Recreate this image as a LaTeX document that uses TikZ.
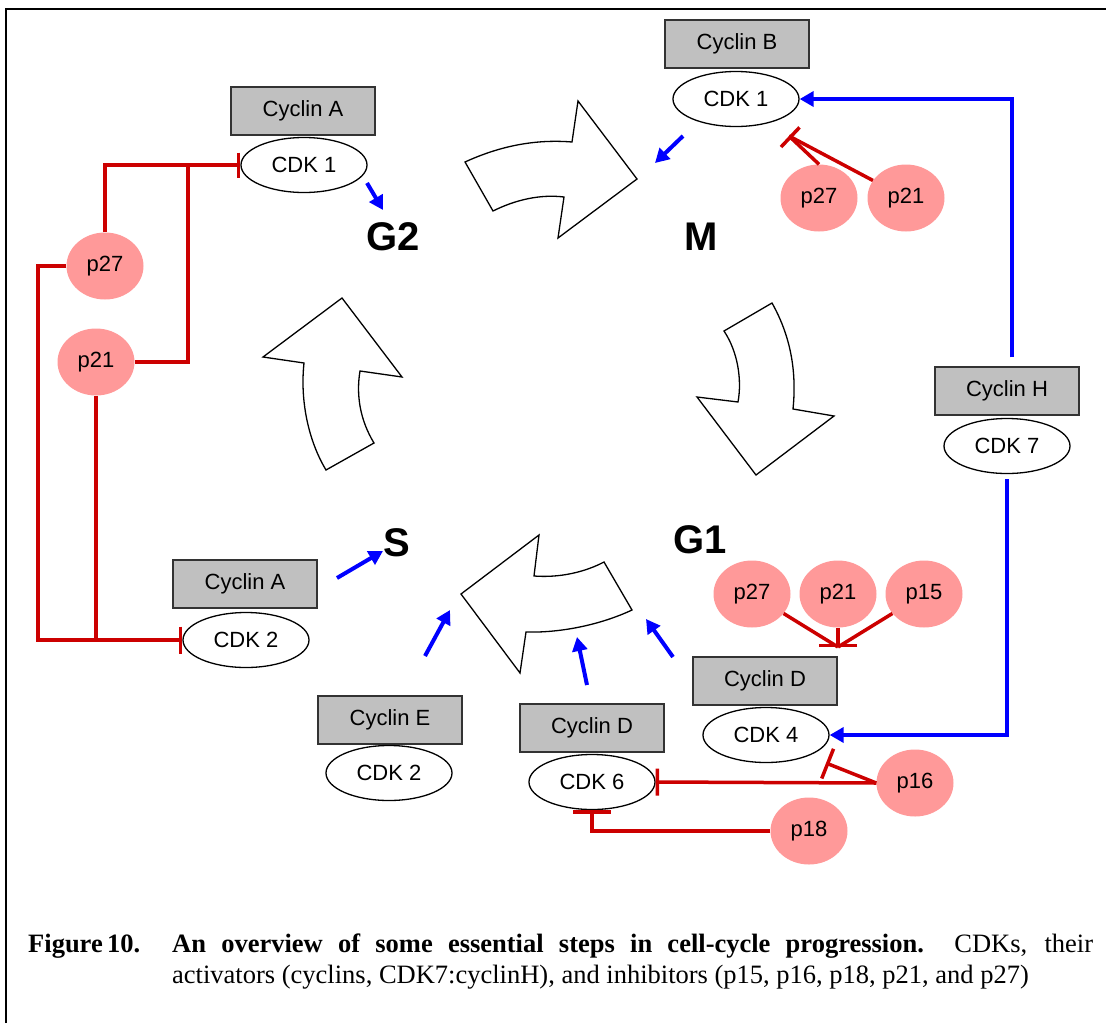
\documentclass[tikz,border=0pt]{standalone}
\usepackage{fontspec}
\setmainfont{Liberation Sans}
\newfontfamily\capfont{Liberation Serif}
\usetikzlibrary{shapes.geometric,arrows.meta}
\definecolor{inhred}{HTML}{CC0000}
\definecolor{pinkfill}{HTML}{FF9999}
\definecolor{boxgray}{HTML}{C0C0C0}
\definecolor{actblue}{HTML}{0000FF}
\begin{document}
\begin{tikzpicture}[x=1pt,y=-1pt,
  cyc/.style={draw=black!80, fill=boxgray, line width=1.2pt, minimum width=144pt, minimum height=48pt, inner sep=0pt, font=\fontsize{22}{26}\selectfont},
  cdk/.style={ellipse, draw=black, line width=1.3pt, fill=white, minimum width=126pt, minimum height=55pt, inner sep=0pt, font=\fontsize{22}{26}\selectfont},
  inhib/.style={ellipse, fill=pinkfill, minimum width=77pt, minimum height=67pt, inner sep=0pt, font=\fontsize{22}{26}\selectfont},
  phase/.style={inner sep=0pt, font=\fontsize{40}{44}\selectfont\bfseries},
  blockarrow/.style={draw=black, line width=1.3pt, fill=white, line join=miter},
  act/.style={draw=actblue, line width=4pt, -{Triangle[length=14pt,width=15pt]}},
  inh/.style={draw=inhred, line width=3.5pt},
  tbar/.style={-{Bar[width=#1]}},
  captext/.style={inner sep=0pt, font=\capfont\fontsize{26.5}{31}\selectfont}
]
\useasboundingbox (0,0) rectangle (1106,1023);
% frame
\draw[line width=2pt] (6,1023) -- (6,9) -- (1106,9);

% block arrows of the cycle
\draw[blockarrow] (465,162) .. controls (500,146) and (535,139) .. (572,142) -- (578,101) -- (637,179) -- (558,238) -- (564,197) .. controls (540,194) and (515,200) .. (493,211) -- cycle;
\draw[blockarrow] (724,331) -- (772,303) .. controls (790,335) and (797,370) .. (793,409) -- (834,416) -- (756,475) -- (697,397) -- (738,402) .. controls (742,380) and (738,352) .. (724,331) -- cycle;
\draw[blockarrow] (604,562) -- (632,610) .. controls (600,625) and (560,633) .. (526,632) -- (520,673) -- (461,594) -- (539,535) -- (534,576) .. controls (560,578) and (585,572) .. (604,562) -- cycle;
\draw[blockarrow] (326,470) -- (374,443) .. controls (360,420) and (356,395) .. (360,371) -- (402,377) -- (342,298) -- (263,357) -- (304,363) .. controls (300,400) and (308,440) .. (326,470) -- cycle;

% phase labels
\node[phase] (G2) at (393,237) {G2};
\node[phase] (M) at (701,237) {M};
\node[phase] (G1) at (700,540) {G1};
\node[phase] (S) at (397,543) {S};

% cyclins and CDKs
\node[cyc] (cycB) at (737,44) {Cyclin B};
\node[cdk] (cdk1b) at (736,99) {CDK 1};
\node[cyc] (cycA1) at (303,111) {Cyclin A};
\node[cdk] (cdk1a) at (304,165) {CDK 1};
\node[cyc] (cycH) at (1007,391) {Cyclin H};
\node[cdk] (cdk7) at (1007,446) {CDK 7};
\node[cyc] (cycA2) at (245,584) {Cyclin A};
\node[cdk] (cdk2a) at (246,640) {CDK 2};
\node[cyc] (cycE) at (390,720) {Cyclin E};
\node[cdk] (cdk2b) at (389,773) {CDK 2};
\node[cyc] (cycD1) at (592,728) {Cyclin D};
\node[cdk] (cdk6) at (592,782) {CDK 6};
\node[cyc] (cycD2) at (765,681) {Cyclin D};
\node[cdk] (cdk4) at (766,735) {CDK 4};

% inhibitors
\node[inhib] (p27a) at (105,266) {p27};
\node[inhib] (p21a) at (96,362) {p21};
\node[inhib] (p27b) at (819,198) {p27};
\node[inhib] (p21b) at (906,198) {p21};
\node[inhib] (p27c) at (752,594) {p27};
\node[inhib] (p21c) at (838,594) {p21};
\node[inhib] (p15) at (924,594) {p15};
\node[inhib] (p16) at (915,783) {p16};
\node[inhib] (p18) at (809,831) {p18};

% junction coordinates
\coordinate (j1) at (188,165);
\coordinate (k1) at (38,640);
\coordinate (j2) at (96,640);
\coordinate (t1) at (789,136);
\coordinate (t2) at (838,647);
\coordinate (t3) at (826,763);

% inhibition connectors
\draw[inh, tbar=25pt] (p27a.north) |- (cdk1a.west);
\draw[inh] (p21a.east) -| (j1);
\draw[inh, tbar=27pt] (p27a.west) -| (k1) -- (cdk2a.west);
\draw[inh] (p21a.south) -- (j2);
\draw[inh, tbar=27pt] (p27b.north) -- (t1);
\draw[inh] (p21b) -- (t1);
\draw[inh, tbar=38pt] (p21c.south) -- (t2);
\draw[inh] (p27c) -- (t2);
\draw[inh] (p15) -- (t2);
\draw[inh, tbar=32pt] (p16.west) -- (t3);
\draw[inh, tbar=27pt] (p16.west) -- (cdk6.east);
\draw[inh, tbar=38pt] (p18.west) -| (cdk6.south);

% CDK7:cyclin H activation
\draw[act] ([xshift=5pt]cycH.north) ++(0,-9) |- (cdk1b.east);
\draw[act, shorten <=5pt] (cdk7.south) |- (cdk4.east);

% short activation arrows
\coordinate (b1s) at (683,136); \coordinate (b1e) at (655,163);
\coordinate (b2s) at (367,183); \coordinate (b2e) at (383,210);
\coordinate (b3s) at (337,578); \coordinate (b3e) at (383,551);
\coordinate (b4s) at (425,656); \coordinate (b4e) at (450,610);
\coordinate (b5s) at (587,685); \coordinate (b5e) at (577,637);
\coordinate (b6s) at (673,657); \coordinate (b6e) at (646,619);
\draw[act] (b1s) -- (b1e);
\draw[act] (b2s) -- (b2e);
\draw[act] (b3s) -- (b3e);
\draw[act] (b4s) -- (b4e);
\draw[act] (b5s) -- (b5e);
\draw[act] (b6s) -- (b6e);

% caption
\node[captext, anchor=base west] (figlabel) at (28,952) {\bfseries Figure\,10.};
\node[captext, anchor=north west, text width=921pt, align=justify] (caption) at (172,934)
  {\textbf{An overview of some essential steps in cell-cycle progression.}\ \ CDKs, their\linebreak activators (cyclins, CDK7:cyclinH), and inhibitors (p15, p16, p18, p21, and p27)};
\end{tikzpicture}
\end{document}
